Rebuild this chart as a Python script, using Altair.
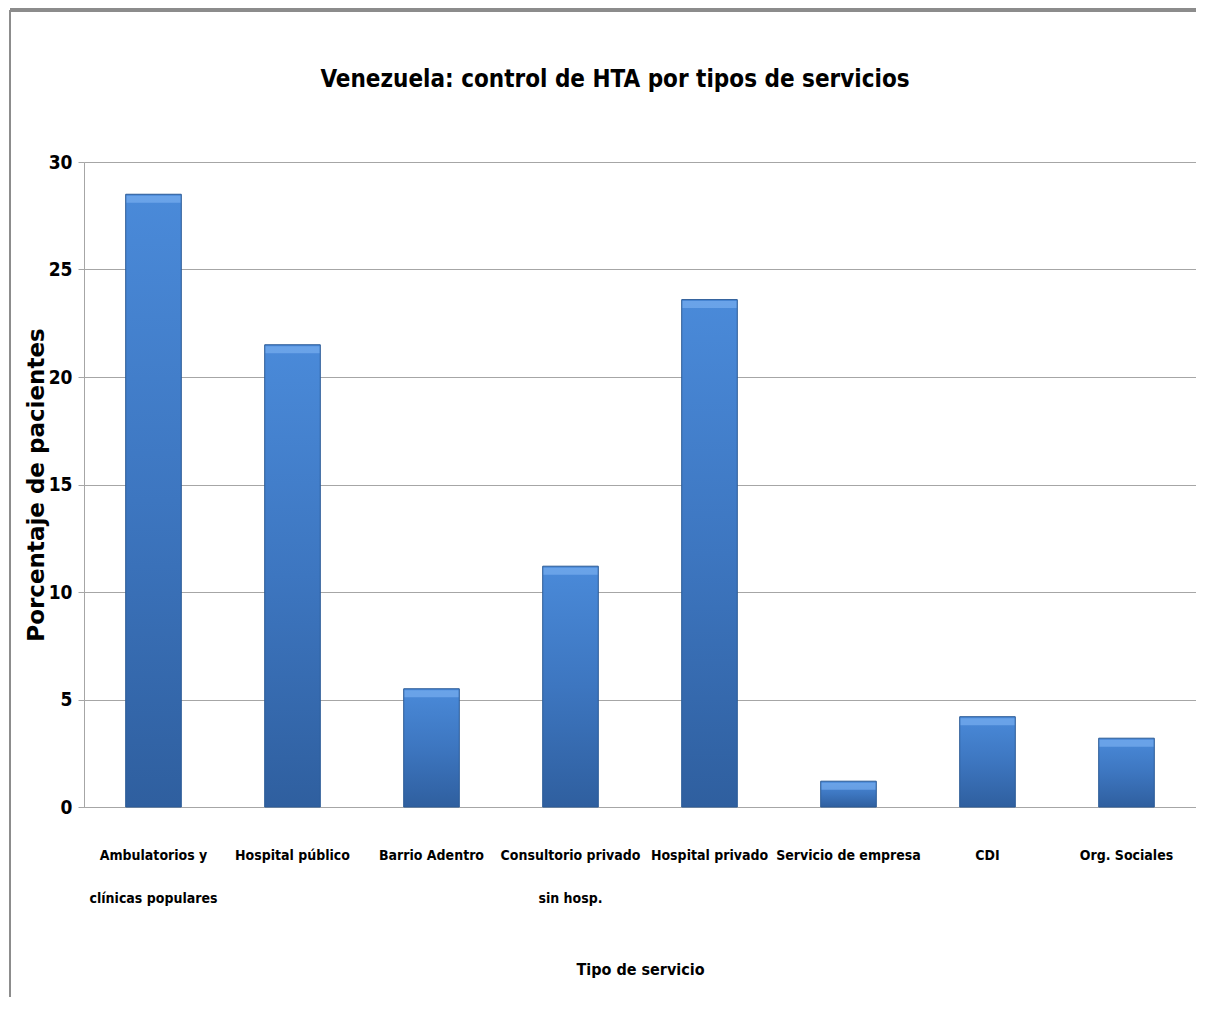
import altair as alt
import pandas as pd

categories = [
    "Ambulatorios y\nclínicas populares",
    "Hospital público",
    "Barrio Adentro",
    "Consultorio privado\nsin hosp.",
    "Hospital privado",
    "Servicio de empresa",
    "CDI",
    "Org. Sociales",
]
values = [28.5, 21.5, 5.5, 11.2, 23.6, 1.2, 4.2, 3.2]
title_text = "Venezuela: control de HTA por tipos de servicios"

df = pd.DataFrame({"servicio": categories, "pct": values})

NARROW = "Liberation Sans Narrow, DejaVu Sans Condensed, Arial Narrow, sans-serif"

x_enc = alt.X(
    "servicio:N",
    sort=categories,
    scale=alt.Scale(paddingInner=0.6, paddingOuter=0.3),
    axis=alt.Axis(
        title="Tipo de servicio",
        labelAngle=0,
        labelExpr="split(datum.label, '\\n')",
        labelFont=NARROW,
        labelFontWeight="bold",
        labelFontSize=14,
        labelColor="#000000",
        labelLineHeight=43,
        labelPadding=48,
        labelBaseline="middle",
        labelLimit=300,
        labelOverlap=False,
        ticks=False,
        domainColor="#a6a6a6",
        domainWidth=1,
        titleFont=NARROW,
        titleFontWeight="bold",
        titleFontSize=16,
        titleColor="#000000",
        titlePadding=56,
        grid=False,
    ),
)

y_enc = alt.Y(
    "pct:Q",
    scale=alt.Scale(domain=[0, 30]),
    axis=alt.Axis(
        title="Porcentaje de pacientes",
        values=[0, 5, 10, 15, 20, 25, 30],
        labelFont=NARROW,
        labelFontWeight="bold",
        labelFontSize=19,
        labelColor="#000000",
        labelPadding=6,
        tickSize=6,
        tickColor="#a6a6a6",
        domainColor="#a6a6a6",
        gridColor="#a6a6a6",
        gridWidth=1,
        titleFont="DejaVu Sans",
        titleFontWeight="bold",
        titleFontSize=23,
        titleColor="#000000",
        titlePadding=0,
    ),
)

gradient = alt.LinearGradient(
    gradient="linear",
    x1=0, y1=0, x2=0, y2=1,
    stops=[
        alt.GradientStop(color="#4a8ad9", offset=0),
        alt.GradientStop(color="#3d76c0", offset=0.5),
        alt.GradientStop(color="#2f5f9f", offset=1),
    ],
)

bars = alt.Chart(df).mark_bar(
    color=gradient, stroke="#2b5a96", strokeWidth=1
).encode(x=x_enc, y=y_enc)

bevel = alt.Chart(df).mark_tick(
    orient="horizontal", size=54, thickness=7, color="#78aef0", yOffset=5
).encode(x=alt.X("servicio:N", sort=categories), y="pct:Q")

frame_top = alt.Chart(df).mark_rule(color="#8c8c8c", strokeWidth=3).encode(
    x=alt.value(-74), x2=alt.value(1112), y=alt.value(-152)
)
frame_left = alt.Chart(df).mark_rule(color="#8c8c8c", strokeWidth=1).encode(
    x=alt.value(-74), y=alt.value(-152), y2=alt.value(850)
)

title_df = pd.DataFrame({"t": [title_text]})
title_mark = alt.Chart(title_df).mark_text(
    font=NARROW, fontWeight="bold", fontSize=24, color="#000000",
    align="center", baseline="middle",
).encode(text="t:N", x=alt.value(531), y=alt.value(-82))

chart = (
    alt.layer(bars, bevel, frame_top, frame_left, title_mark)
    .properties(
        width=1112,
        height=645,
        padding={"left": 76, "top": 154, "right": 0, "bottom": 190},
        autosize=alt.AutoSizeParams(type="none"),
    )
    .configure_view(stroke=None)
    .configure(background="white")
)

chart.save("out.html", embed_options={"renderer": "svg", "actions": False})
